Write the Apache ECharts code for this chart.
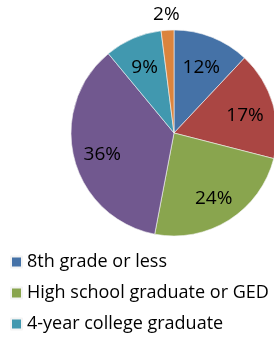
<!DOCTYPE html>
<html>
<head>
<meta charset="utf-8">
<script src="https://cdn.jsdelivr.net/npm/echarts@6/dist/echarts.min.js"></script>
<style>
html, body { margin: 0; padding: 0; background: #fff; }
#chart { width: 274px; height: 338px; }
</style>
</head>
<body>
<div id="chart"></div>
<script>
// education levels, clockwise from 12 o'clock
const categories = ['8th grade or less', 'Some high school', 'High school graduate or GED', 'Some college', '4-year college graduate', 'Graduate degree'];
const values = [12, 17, 24, 36, 9, 2];
const colors = ['#4572A7', '#AA4643', '#89A54E', '#71588F', '#4198AF', '#DB843D'];
const legendShown = ['8th grade or less', 'High school graduate or GED', '4-year college graduate'];

const font = '"Open Sans", Lato, sans-serif';
const center = [174, 133];

const pieData = categories.map((c, i) => ({ name: c, value: values[i], itemStyle: { color: colors[i] } }));

const myChart = echarts.init(document.getElementById('chart'));
const option = {
    animation: false,
    legend: {
        data: legendShown,
        orient: 'vertical',
        left: 10,
        top: 252,
        height: 90,
        padding: 0,
        itemWidth: 11,
        itemHeight: 11,
        itemGap: 11,
        itemTextGap: 6,
        icon: 'rect',
        textStyle: { fontFamily: font, fontSize: 18, color: '#000', lineHeight: 20 }
    },
    series: [
        {
            // the pie itself
            type: 'pie',
            center: center,
            radius: [0, 103],
            startAngle: 90,
            clockwise: true,
            silent: true,
            label: { show: false },
            labelLine: { show: false },
            itemStyle: { borderColor: '#f4f4f4', borderWidth: 0.6 },
            data: pieData
        },
        {
            // inner labels, pushed out toward the rim
            type: 'pie',
            center: center,
            radius: [39, 103],
            startAngle: 90,
            silent: true,
            legendHoverLink: false,
            itemStyle: { color: 'transparent' },
            label: {
                show: true,
                position: 'inside',
                offset: [0, 3],
                formatter: p => p.value >= 5 ? p.value + '%' : '',
                fontFamily: font,
                fontSize: 19,
                color: '#000'
            },
            labelLine: { show: false },
            data: categories.map((c, i) => ({ name: c + ' ', value: values[i] }))
        },
        {
            // small slice label outside the pie
            type: 'pie',
            center: center,
            radius: [113, 125],
            startAngle: 90,
            silent: true,
            itemStyle: { color: 'transparent' },
            label: {
                show: true,
                position: 'inside',
                offset: [0, 3],
                formatter: p => p.value < 5 ? p.value + '%' : '',
                fontFamily: font,
                fontSize: 19,
                color: '#000'
            },
            labelLine: { show: false },
            data: categories.map((c, i) => ({ name: c + '  ', value: values[i] }))
        }
    ]
};
myChart.setOption(option);
</script>
</body>
</html>
